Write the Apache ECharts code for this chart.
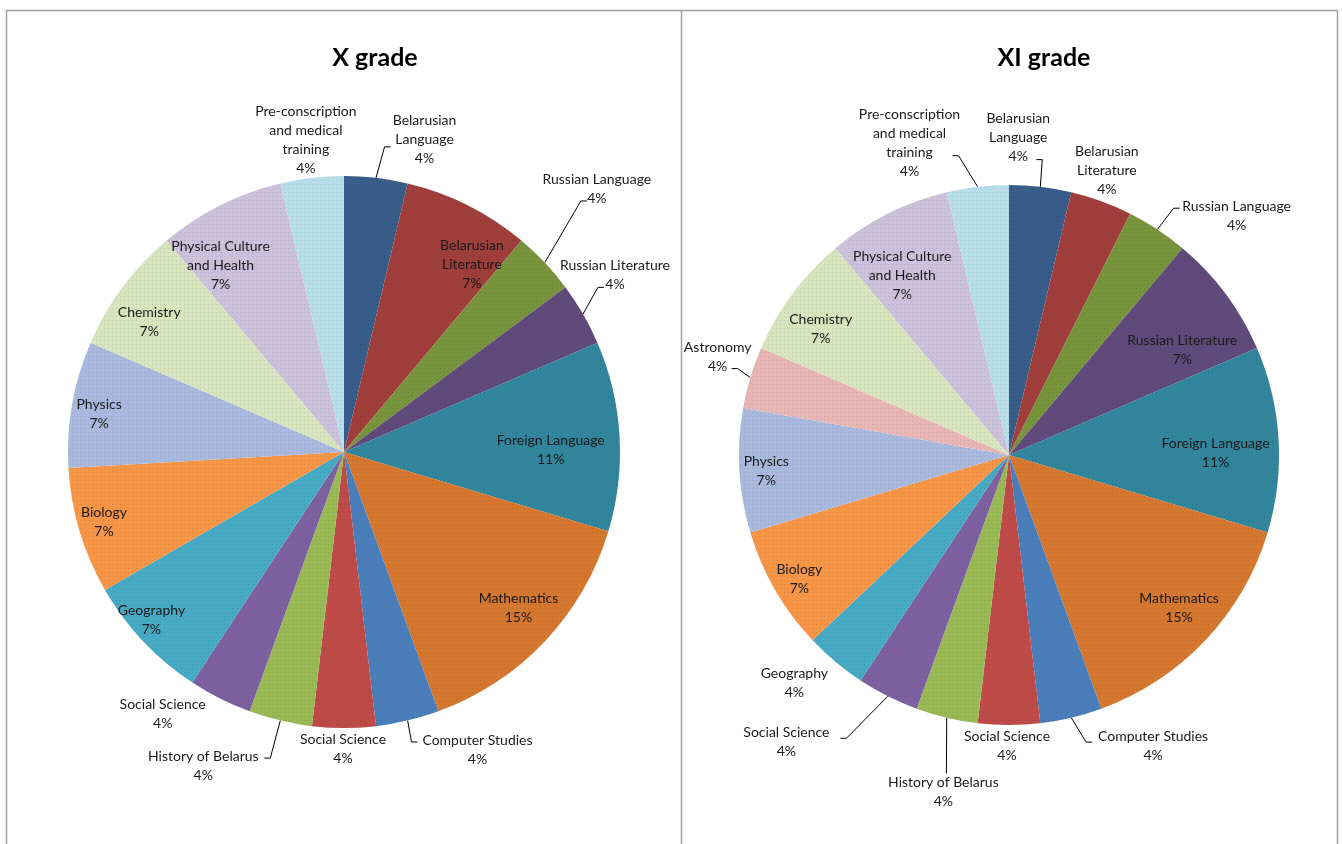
<!DOCTYPE html>
<html>
<head>
<meta charset="utf-8">
<script src="https://cdn.jsdelivr.net/npm/echarts@6/dist/echarts.min.js"></script>
<style>
html,body{margin:0;padding:0;background:#fff;}
#chart{width:1342px;height:844px;}
</style>
</head>
<body>
<div id="chart"></div>
<script>
// ---------- DATA ----------
const chartTitles = ['X grade', 'XI grade'];

const categoriesX = ['Belarusian Language', 'Belarusian Literature', 'Russian Language', 'Russian Literature',
  'Foreign Language', 'Mathematics', 'Computer Studies', 'Social Science', 'History of Belarus',
  'Social Science', 'Geography', 'Biology', 'Physics', 'Chemistry', 'Physical Culture and Health',
  'Pre-conscription and medical training'];
const hoursX = [1, 2, 1, 1, 3, 4, 1, 1, 1, 1, 2, 2, 2, 2, 2, 1];

const categoriesXI = ['Belarusian Language', 'Belarusian Literature', 'Russian Language', 'Russian Literature',
  'Foreign Language', 'Mathematics', 'Computer Studies', 'Social Science', 'History of Belarus',
  'Social Science', 'Geography', 'Biology', 'Physics', 'Astronomy', 'Chemistry',
  'Physical Culture and Health', 'Pre-conscription and medical training'];
const hoursXI = [1, 1, 1, 2, 3, 4, 1, 1, 1, 1, 1, 2, 2, 1, 2, 2, 1];

// ---------- STYLE / LAYOUT ----------
const wrapped = {
  'Belarusian Language': 'Belarusian\nLanguage',
  'Belarusian Literature': 'Belarusian\nLiterature',
  'Physical Culture and Health': 'Physical Culture\nand Health',
  'Pre-conscription and medical training': 'Pre-conscription\nand medical\ntraining'
};
const paletteX = ['#385D8A', '#A03E3B', '#77933C', '#5F4A7B', '#31859C', '#D5772F', '#4A7EBB', '#BE4B48',
  '#98B954', '#7D60A0', '#46AAC5', '#F69546', '#A9B9DE', '#D7E4BD', '#CCC1DA', '#B7DEE8'];
const paletteXI = ['#385D8A', '#A03E3B', '#77933C', '#5F4A7B', '#31859C', '#D5772F', '#4A7EBB', '#BE4B48',
  '#98B954', '#7D60A0', '#46AAC5', '#F69546', '#A9B9DE', '#E6B5B4', '#D7E4BD', '#CCC1DA', '#B7DEE8'];

// label placement: [radius factor, angle shift (deg), leader end dx, leader end dy]
const labelPosX = [
  [1.168, 7.8, -34, 7], [0.821, 7.7], [1.322, -2.8, -10, 12], [1.172, -3.1, -11, 12],
  [0.749, 2.8], [0.847, -1.6], [1.183, -10.8, -60, -8], [1.076, 0.2],
  [1.247, 10.8, 61, -8], [1.155, 8.0], [0.925, 2.3], [0.906, 0.4],
  [0.898, -1.1], [0.849, -2.9], [0.811, -6.8], [1.139, -0.3]
];
const labelPosXI = [
  [1.176, -5.0, 18, 22], [1.113, -1.0], [1.222, 10.3, -57, -8], [0.750, 5.5],
  [0.765, 2.7], [0.848, -1.3], [1.203, -13.0, -61, -4], [1.078, 0.4],
  [1.270, -2.3, 3, -18], [1.346, 11.1, 54, -4], [1.159, 3.3], [0.902, -0.6],
  [0.901, -0.5], [1.139, 2.0, 14, 12], [0.839, -2.9], [0.773, -4.1], [1.214, -11.0, 43, 13]
];
const pieX = { center: [344, 452], radius: 276 };
const pieXI = { center: [1009, 455], radius: 270 };
const FONT = 'Lato, "Open Sans", sans-serif';

function makeLabelLayout(values, pie, spec) {
  const total = values.reduce((a, b) => a + b, 0);
  const mids = [];
  let acc = 0;
  values.forEach(v => { mids.push((acc + v / 2) / total * 360); acc += v; });
  const cx = pie.center[0], cy = pie.center[1], R = pie.radius;
  return function (p) {
    const s = spec[p.dataIndex];
    const a = (mids[p.dataIndex] + s[1]) * Math.PI / 180;
    const x = cx + Math.sin(a) * s[0] * R;
    const y = cy - Math.cos(a) * s[0] * R;
    const out = { x: x, y: y, align: 'center', verticalAlign: 'middle' };
    if (s.length > 2) {
      const m = mids[p.dataIndex] * Math.PI / 180;
      const p0 = (p.labelLinePoints && p.labelLinePoints[0]) ? p.labelLinePoints[0]
        : [cx + Math.sin(m) * R, cy - Math.cos(m) * R];
      const end = [x + s[2], y + s[3]];
      const pts = [[p0[0], p0[1]]];
      if (Math.abs(s[2]) > 4) pts.push([end[0] + (s[2] > 0 ? 6 : -6), end[1]]);
      pts.push(end);
      out.labelLinePoints = pts;
    }
    return out;
  };
}

function makeSeries(cats, values, palette, pie, spec) {
  const total = values.reduce((a, b) => a + b, 0);
  return {
    type: 'pie',
    center: pie.center,
    radius: pie.radius,
    startAngle: 90,
    clockwise: true,
    avoidLabelOverlap: false,
    emphasis: { disabled: true },
    itemStyle: {
      borderWidth: 0,
      decal: { symbol: 'circle', symbolSize: 1, dashArrayX: [1, 3], dashArrayY: [1, 3], color: 'rgba(0,0,0,0.13)' }
    },
    label: {
      show: true,
      position: 'outside',
      color: '#1a1a1a',
      fontFamily: FONT,
      fontSize: 14,
      lineHeight: 19,
      formatter: function (p) {
        return (wrapped[p.name] || p.name) + '\n' + Math.round(p.value / total * 100) + '%';
      }
    },
    labelLine: { show: false, smooth: false, lineStyle: { color: '#000', width: 1 } },
    labelLayout: makeLabelLayout(values, pie, spec),
    data: cats.map((n, i) => ({
      name: n,
      value: values[i],
      itemStyle: { color: palette[i] },
      labelLine: { show: spec[i].length > 2 }
    }))
  };
}

const chart = echarts.init(document.getElementById('chart'), null, { renderer: 'canvas' });
chart.setOption({
  backgroundColor: '#fff',
  animation: false,
  title: [
    { text: chartTitles[0], left: 370, top: 40, textAlign: 'center',
      textStyle: { fontFamily: FONT, fontWeight: 'bold', fontSize: 25, color: '#000' } },
    { text: chartTitles[1], left: 1039, top: 40, textAlign: 'center',
      textStyle: { fontFamily: FONT, fontWeight: 'bold', fontSize: 25, color: '#000' } }
  ],
  graphic: [
    { type: 'rect', silent: true, shape: { x: 6.5, y: 10.5, width: 1331, height: 845 },
      style: { fill: 'none', stroke: '#a0a0a0', lineWidth: 1.5 } },
    { type: 'line', silent: true, shape: { x1: 681.5, y1: 10, x2: 681.5, y2: 844 },
      style: { stroke: '#a0a0a0', lineWidth: 1.5 } }
  ],
  series: [
    makeSeries(categoriesX, hoursX, paletteX, pieX, labelPosX),
    makeSeries(categoriesXI, hoursXI, paletteXI, pieXI, labelPosXI)
  ]
});
</script>
</body>
</html>
